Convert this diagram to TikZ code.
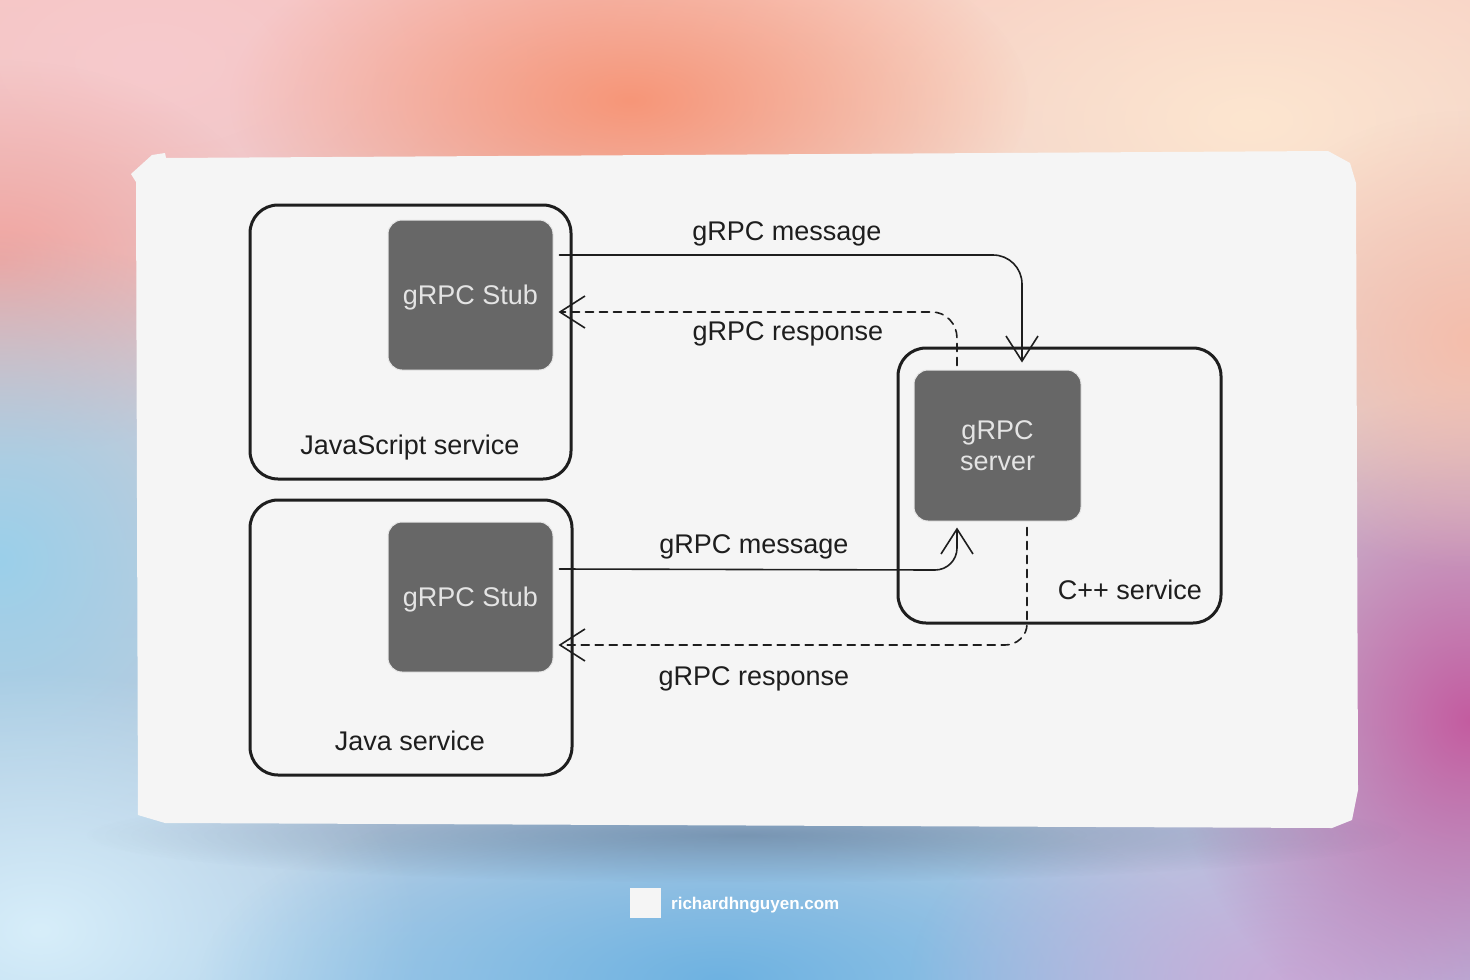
\documentclass[tikz,border=0pt]{standalone}
\usepackage{fontspec}
\setmainfont{Liberation Sans}
\usetikzlibrary{arrows.meta,fadings,calc}
\tikzfading[name=radfade, inner color=transparent!0, outer color=transparent!100]
\definecolor{cardbg}{HTML}{F5F5F5}
\definecolor{stubfill}{HTML}{676767}
\definecolor{stubtext}{HTML}{E4E4E4}
\definecolor{ink}{HTML}{1E1E1E}
\definecolor{bgtop}{RGB}{245,195,190}
\definecolor{bgbot}{RGB}{170,205,232}
\definecolor{cpeach}{RGB}{253,230,208}
\definecolor{cpink}{RGB}{247,202,205}
\definecolor{csalmon}{RGB}{247,150,120}
\definecolor{ccoral}{RGB}{242,165,160}
\definecolor{cblue}{RGB}{155,208,234}
\definecolor{cpale}{RGB}{215,238,250}
\definecolor{cdeep}{RGB}{110,178,225}
\definecolor{clav}{RGB}{200,170,215}
\definecolor{cmag}{RGB}{196,92,160}
\definecolor{cpp}{RGB}{245,190,172}
\definecolor{shadowc}{RGB}{60,80,110}
\tikzset{
  svcbox/.style={draw=ink, line width=3pt, rounded corners=28pt, fill=none},
  stubbox/.style={fill=stubfill, draw=white!85!stubfill, line width=1pt, rounded corners=14pt,
    text=stubtext, font=\fontsize{27pt}{31pt}\selectfont, align=center},
  lbl/.style={text=ink, font=\fontsize{27pt}{31pt}\selectfont},
  conn/.style={draw=ink, line width=1.6pt, line cap=round,
    -{Straight Barb[length=25pt,width=32pt,line width=1.6pt]}},
  dashconn/.style={conn, dash pattern=on 8pt off 6pt},
  blob/.style={fill=#1, path fading=radfade},
}
\begin{document}
\begin{tikzpicture}[x=1pt,y=-1pt]
\useasboundingbox (0,0) rectangle (1470,980);
% ---------- background ----------
\begin{scope}
\clip (0,0) rectangle (1470,980);
\shade[top color=bgtop, bottom color=bgbot] (0,0) rectangle (1470,980);
\fill[blob=cpeach] (1250,120) ellipse (700pt and 380pt);
\fill[blob=cpink] (150,60) ellipse (450pt and 260pt);
\fill[blob=csalmon] (630,100) ellipse (400pt and 190pt);
\fill[blob=ccoral] (0,260) ellipse (280pt and 200pt);
\fill[blob=cblue] (0,560) ellipse (330pt and 330pt);
\fill[blob=cpale] (40,930) ellipse (380pt and 260pt);
\fill[blob=cdeep] (720,980) ellipse (520pt and 200pt);
\fill[blob=clav] (1290,980) ellipse (380pt and 220pt);
\fill[blob=cmag] (1470,720) ellipse (300pt and 330pt);
\fill[blob=cpp] (1470,340) ellipse (260pt and 230pt);
% card shadow
\fill[shadowc, opacity=0.4, path fading=radfade] (745,835) ellipse (660pt and 48pt);
\end{scope}
% ---------- card ----------
\fill[cardbg] (131,174) -- (152,155) -- (165,153) -- (166,158) -- (1328,151) -- (1350,163)
  -- (1356,183) -- (1358,790) -- (1352,820) -- (1332,828) -- (165,823) -- (138,815) -- (136,182) -- cycle;
% ---------- services ----------
\node[svcbox, minimum width=321pt, minimum height=274pt] (js) at (410.5,342) {};
\node[svcbox, minimum width=322pt, minimum height=275pt] (java) at (411,637.5) {};
\node[svcbox, minimum width=323pt, minimum height=275pt] (cpp) at (1059.5,485.5) {};
\node[stubbox, minimum width=165pt, minimum height=150pt, text depth=0pt] (jsstub) at (470.5,295) {gRPC Stub};
\node[stubbox, minimum width=165pt, minimum height=150pt, text depth=0pt] (javastub) at (470.5,597) {gRPC Stub};
\node[stubbox, minimum width=167pt, minimum height=151pt] (server) at (997.5,445.5) {gRPC\\server};
\node[lbl] (jslbl) at (410,448) {JavaScript service};
\node[lbl] (javalbl) at (410,741) {Java service};
\node[lbl] (cpplbl) at (1130,590) {C++ service};
% ---------- connectors ----------
\coordinate (a1s) at ($(jsstub.east)+(6,-40)$);
\coordinate (a1e) at ([yshift=7pt]server.north -| 1022,0);
\draw[conn] (a1s) -- (993,255) to[out=0,in=90] (1022,284) -- (a1e);
\coordinate (a2s) at ([yshift=4pt]server.north -| 957,0);
\coordinate (a2e) at ($(jsstub.east)+(5,17)$);
\draw[dashconn] (a2s) -- (957,338) to[out=90,in=0] (932,312) -- (a2e);
\coordinate (a3s) at ($(javastub.east)+(6,-28)$);
\coordinate (a3e) at ([yshift=-6pt]server.south -| 957,0);
\draw[conn] (a3s) -- (935,570) to[out=0,in=-90] (957,548) -- (a3e);
\coordinate (a4s) at ([yshift=-6pt]server.south -| 1027,0);
\coordinate (a4e) at ($(javastub.east)+(5,48)$);
\draw[dashconn] (a4s) -- (1027,624) to[out=-90,in=0] (1005,645) -- (a4e);
\node[lbl] (m1) at (787,234) {gRPC message};
\node[lbl] (r1) at (788,334) {gRPC response};
\node[lbl] (m2) at (754,547) {gRPC message};
\node[lbl] (r2) at (754,679) {gRPC response};
% ---------- footer ----------
\fill[cardbg] (630,888) rectangle (661,918);
\node[anchor=west, text=white, font=\fontsize{17pt}{20pt}\selectfont\bfseries, inner sep=0pt] (site) at (671,905) {richardhnguyen.com};
\end{tikzpicture}
\end{document}
